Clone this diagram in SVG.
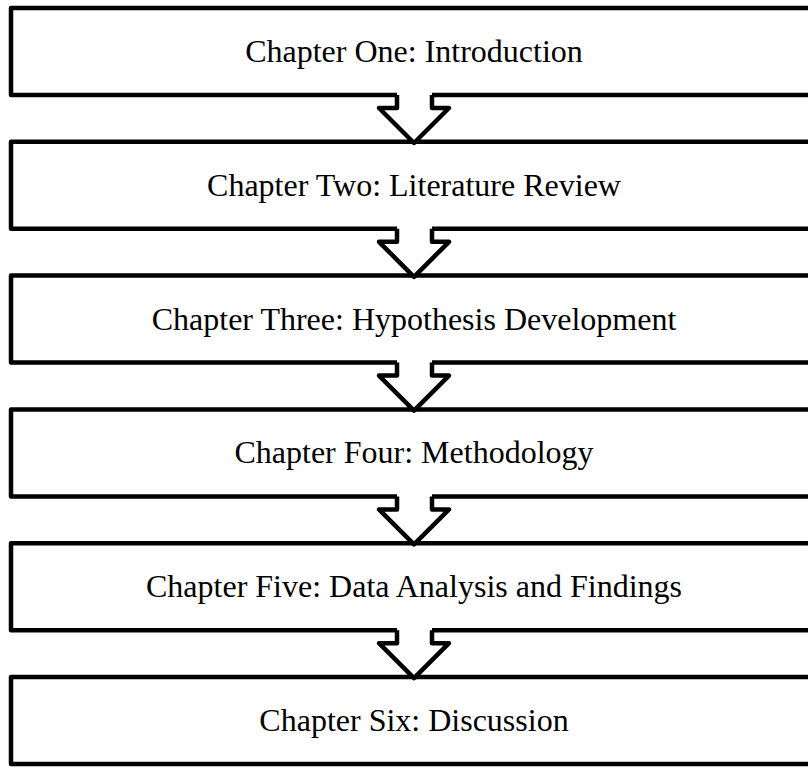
<svg xmlns="http://www.w3.org/2000/svg" width="808" height="779" viewBox="0 0 808 779">
<style>
.box{fill:#fff;stroke:#000;stroke-width:4.5;stroke-linejoin:round}
.lbl{font-family:"Liberation Serif","Times New Roman",serif;font-size:32px;fill:#000;text-anchor:middle}
.cover{fill:#fff;stroke:none}
.arr{fill:none;stroke:#000;stroke-width:4.5;stroke-linejoin:round}
</style>
<defs>
<g id="arrow">
<polygon class="cover" points="397,91 397,108 379,108 414,143 449,108 432,108 432,91"/>
<polyline class="arr" points="397,95 397,108 379,108 414,143 449,108 432,108 432,95"/>
</g>
</defs>
<g id="n1"><rect class="box" x="11" y="8" width="806" height="87"/><text class="lbl" x="414" y="62">Chapter One: Introduction</text></g>
<g id="n2"><rect class="box" x="11" y="141.8" width="806" height="87"/><text class="lbl" x="414" y="195.8">Chapter Two: Literature Review</text></g>
<g id="n3"><rect class="box" x="11" y="275.6" width="806" height="87"/><text class="lbl" x="414" y="329.6">Chapter Three: Hypothesis Development</text></g>
<g id="n4"><rect class="box" x="11" y="409.4" width="806" height="87"/><text class="lbl" x="414" y="463.4">Chapter Four: Methodology</text></g>
<g id="n5"><rect class="box" x="11" y="543.2" width="806" height="87"/><text class="lbl" x="414" y="597.2">Chapter Five: Data Analysis and Findings</text></g>
<g id="n6"><rect class="box" x="11" y="677" width="806" height="87"/><text class="lbl" x="414" y="731">Chapter Six: Discussion</text></g>
<g id="connectors">
<use href="#arrow"/>
<use href="#arrow" y="133.8"/>
<use href="#arrow" y="267.6"/>
<use href="#arrow" y="401.4"/>
<use href="#arrow" y="535.2"/>
</g>
</svg>
